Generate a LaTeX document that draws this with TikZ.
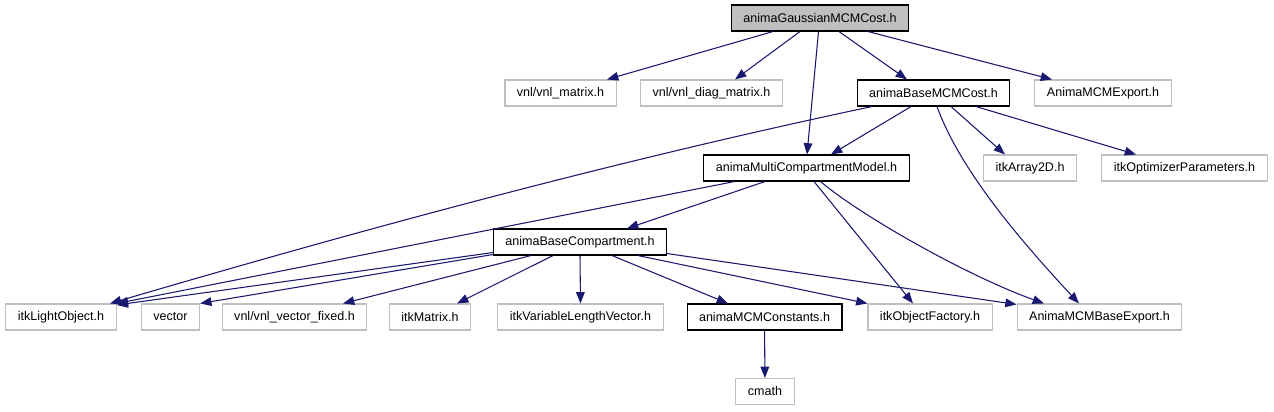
\documentclass[tikz,border=0pt]{standalone}
\usepackage{fontspec}
\setmainfont{Liberation Sans}
\usetikzlibrary{arrows.meta,calc}
\definecolor{edgeblue}{HTML}{191970}
\definecolor{boxgray}{HTML}{BFBFBF}
\tikzset{
  hdr/.style={draw=boxgray, line width=0.8pt, fill=white, minimum height=19.5pt,
    inner xsep=9pt, inner ysep=0pt, font=\fontsize{9.4}{11}\selectfont},
  dochdr/.style={hdr, draw=black},
  mainhdr/.style={hdr, draw=black, fill=boxgray},
  dep/.style={draw=edgeblue, line width=0.8pt, -{Triangle[length=8.5pt,width=6.5pt]}},
}
\begin{document}
\begin{tikzpicture}[x=0.75pt, y=-0.75pt]
    \useasboundingbox (0,0) rectangle (1274,411);

    % Top file
    \node[mainhdr] (gauss) at (820,18) {animaGaussianMCMCost.h};

    % Second row
    \node[hdr] (vnlmatrix) at (560.5,93) {vnl/vnl\_matrix.h};
    \node[hdr] (vnldiag) at (711.5,93) {vnl/vnl\_diag\_matrix.h};
    \node[dochdr] (basecost) at (933.5,93) {animaBaseMCMCost.h};
    \node[hdr] (mcmexport) at (1103,93) {AnimaMCMExport.h};

    % Third row
    \node[dochdr] (mcmodel) at (806.5,168) {animaMultiCompartmentModel.h};
    \node[hdr] (array2d) at (1030,168) {itkArray2D.h};
    \node[hdr] (optparams) at (1184.5,168) {itkOptimizerParameters.h};

    % Fourth row
    \node[dochdr] (basecomp) at (580,242) {animaBaseCompartment.h};

    % Fifth row
    \node[hdr] (lightobj) at (61,317) {itkLightObject.h};
    \node[hdr] (vector) at (170.5,317) {vector};
    \node[hdr] (vecfixed) at (294.5,317) {vnl/vnl\_vector\_fixed.h};
    \node[hdr] (itkmatrix) at (430,317) {itkMatrix.h};
    \node[hdr] (varvec) at (580.5,317) {itkVariableLengthVector.h};
    \node[dochdr] (constants) at (764.5,317) {animaMCMConstants.h};
    \node[hdr] (objfactory) at (930,317) {itkObjectFactory.h};
    \node[hdr] (baseexport) at (1099.5,317) {AnimaMCMBaseExport.h};

    % Last row
    \node[hdr] (cmath) at (765,391.5) {cmath};

    % Edges of the top file
    \draw[dep] ($(gauss.south)+(-47,0)$) -- ($(vnlmatrix.north)+(46.5,0)$);
    \draw[dep] ($(gauss.south)+(-20,0)$) -- ($(vnldiag.north)+(23.5,0)$);
    \draw[dep] ($(gauss.south)+(-1.5,0)$) -- ($(mcmodel.north)+(0.5,0)$);
    \draw[dep] ($(gauss.south)+(19,0)$) -- ($(basecost.north)+(-26.5,0)$);
    \draw[dep] ($(gauss.south)+(48,0)$) -- ($(mcmexport.north)+(-51,0)$);

    % Edges of animaBaseMCMCost.h
    \draw[dep] ($(basecost.south)+(-61.5,0)$) .. controls (600,164) and (340,236) .. ($(lightobj.north)+(49,0)$);
    \draw[dep] ($(basecost.south)+(-22.5,0)$) -- ($(mcmodel.north)+(24.5,0)$);
    \draw[dep] ($(basecost.south)+(3.5,0)$) .. controls (960,170) and (1020,240) .. ($(baseexport.north)+(-20.5,0)$);
    \draw[dep] ($(basecost.south)+(17.5,0)$) -- ($(array2d.north)+(-25,0)$);
    \draw[dep] ($(basecost.south)+(42.5,0)$) -- ($(optparams.north)+(-48.5,0)$);

    % Edges of animaMultiCompartmentModel.h
    \draw[dep] ($(mcmodel.south)+(-72,0)$) -- (lightobj.north east);
    \draw[dep] ($(mcmodel.south)+(-41.5,0)$) -- ($(basecomp.north)+(47,0)$);
    \draw[dep] ($(mcmodel.south)+(7.5,0)$) -- ($(objfactory.north)+(-17,0)$);
    \draw[dep] ($(mcmodel.south)+(14,0)$) .. controls (860,215) and (965,275) .. ($(baseexport.north)+(-55.5,0)$);

    % Edges of animaBaseCompartment.h
    \draw[dep] ($(basecomp.south west)+(0,-3)$) -- ($(lightobj.north east)+(0,1.5)$);
    \draw[dep] ($(basecomp.south west)+(0,-1)$) -- (vector.north east);
    \draw[dep] ($(basecomp.south)+(-49,0)$) -- ($(vecfixed.north)+(48.5,0)$);
    \draw[dep] ($(basecomp.south)+(-27,0)$) -- ($(itkmatrix.north)+(27,0)$);
    \draw[dep] (basecomp.south) -- (varvec.north);
    \draw[dep] ($(basecomp.south)+(32,0)$) -- ($(constants.north)+(-36.5,0)$);
    \draw[dep] ($(basecomp.south)+(58,0)$) -- (objfactory.north west);
    \draw[dep] ($(basecomp.south east)+(0,-2)$) -- ($(baseexport.north west)+(0,1)$);

    % Edge of animaMCMConstants.h
    \draw[dep] (constants) -- (cmath);
\end{tikzpicture}
\end{document}
